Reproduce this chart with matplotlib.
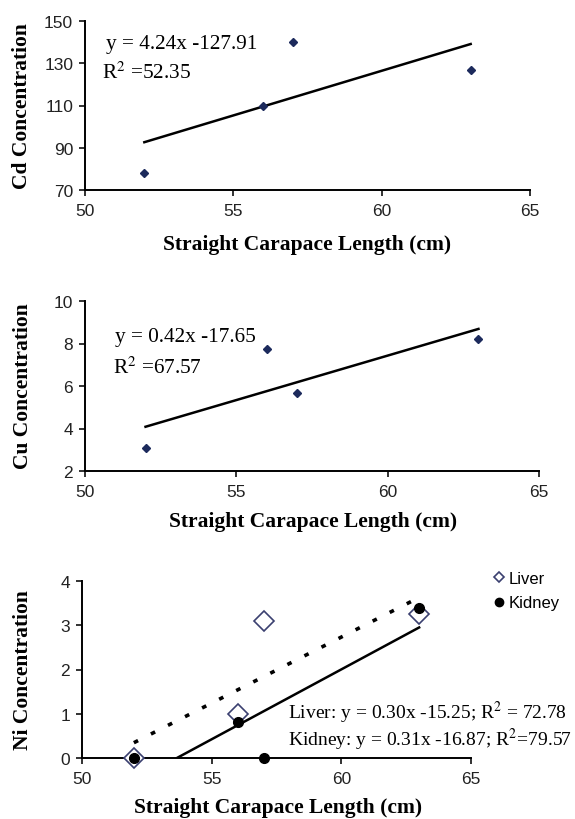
import numpy as np
import matplotlib
matplotlib.use("Agg")
import matplotlib.pyplot as plt
from matplotlib.lines import Line2D

W, H = 575, 820

# carapace length of the four turtles
scl = [52, 56, 57, 63]
cd = [78, 110, 140, 127]
cu = [3.1, 7.75, 5.65, 8.2]
ni_liver = [0, 1.0, 3.1, 3.25]
ni_kidney = [0, 0.82, 0, 3.4]

cd_text = ["y = 4.24x -127.91", "R$^2$ =52.35"]
cu_text = ["y = 0.42x -17.65", "R$^2$ =67.57"]
ni_text = ["Liver: y = 0.30x -15.25; R$^2$ = 72.78",
           "Kidney: y = 0.31x -16.87; R$^2$=79.57"]

xticks = [50, 55, 60, 65]
cd_ticks = [70, 90, 110, 130, 150]
cu_ticks = [2, 4, 6, 8, 10]
ni_ticks = [0, 1, 2, 3, 4]

serif = "Liberation Serif"
sans = "Liberation Sans"
navy = "#1c2a5c"
xlab = "Straight Carapace Length (cm)"

plt.rcParams["mathtext.fontset"] = "stix"


def box(x0, y0, x1, y1):
    return [x0 / W, 1 - y1 / H, (x1 - x0) / W, (y1 - y0) / H]


def fx(x):
    return x / W


def fy(y):
    return 1 - y / H


def style(ax, yticks):
    for s in ["top", "right"]:
        ax.spines[s].set_visible(False)
    for s in ["left", "bottom"]:
        ax.spines[s].set_linewidth(1.4)
    ax.set_xlim(50, 65)
    ax.set_ylim(yticks[0], yticks[-1])
    ax.set_xticks(xticks)
    ax.set_yticks(yticks)
    ax.tick_params(direction="out", length=4.5, width=1.3, labelsize=12.5,
                   colors="#222222")
    ax.tick_params(axis="x", pad=5)
    ax.tick_params(axis="y", pad=4)
    for lab in ax.get_xticklabels() + ax.get_yticklabels():
        lab.set_fontfamily(sans)


def fit_line(ax, y, ls="-", lw=1.8, ymin=None):
    a, b = np.polyfit(scl, y, 1)
    x0 = scl[0]
    if ymin is not None and a * x0 + b < ymin:
        x0 = (ymin - b) / a
    xs = np.array([x0, scl[-1]])
    ax.plot(xs, a * xs + b, color="black", lw=lw, ls=ls, zorder=2)


def label(x, y, s, rot=0):
    fig.text(fx(x), fy(y), s, family=serif, weight="bold", fontsize=15.5,
             rotation=rot, ha="center", va="center")


def note(x, y, s, size=15.3):
    fig.text(fx(x), fy(y), s, family=serif, fontsize=size, va="center")


fig = plt.figure(figsize=(W / 100, H / 100), dpi=100)

# Cd
ax1 = fig.add_axes(box(85, 22, 530, 191))
style(ax1, cd_ticks)
fit_line(ax1, cd)
ax1.plot(scl, cd, "D", color=navy, ms=4, zorder=3)
note(106, 44, cd_text[0])
note(102, 73, cd_text[1])
label(22, 106, "Cd Concentration", rot=90)
label(307, 245, xlab)

# Cu
ax2 = fig.add_axes(box(85, 302, 539, 472))
style(ax2, cu_ticks)
fit_line(ax2, cu)
ax2.plot(scl, cu, "D", color=navy, ms=4, zorder=3)
note(115, 338, cu_text[0])
note(113, 368, cu_text[1])
label(23, 386, "Cu Concentration", rot=90)
label(313, 522, xlab)

# Ni
ax3 = fig.add_axes(box(82, 582, 471, 759))
style(ax3, ni_ticks)
fit_line(ax3, ni_liver, ls=(0, (1.3, 4.0)), lw=2.6)
fit_line(ax3, ni_kidney, ymin=0)
ax3.plot(scl, ni_liver, "D", mfc="white", mec="#3a4070", mew=1.2, ms=10.5,
         ls="none", zorder=3, clip_on=False)
ax3.plot(scl, ni_kidney, "o", color="black", ms=7, ls="none", zorder=4,
         clip_on=False)
handles = [
    Line2D([], [], marker="D", ls="none", mfc="white", mec="#3a4070",
           mew=1.2, ms=5, label="Liver"),
    Line2D([], [], marker="o", ls="none", color="black", ms=6, label="Kidney"),
]
fig.legend(handles=handles, loc="upper left",
           bbox_to_anchor=(fx(486), fy(564)), frameon=False,
           prop={"family": sans, "size": 12}, handlelength=0.5,
           handletextpad=0.35, labelspacing=0.55, borderpad=0)
note(288, 713, ni_text[0], size=14)
note(288, 740, ni_text[1], size=14)
label(23, 670, "Ni Concentration", rot=90)
label(278, 808, xlab)

fig.savefig("out.png", dpi=100)
